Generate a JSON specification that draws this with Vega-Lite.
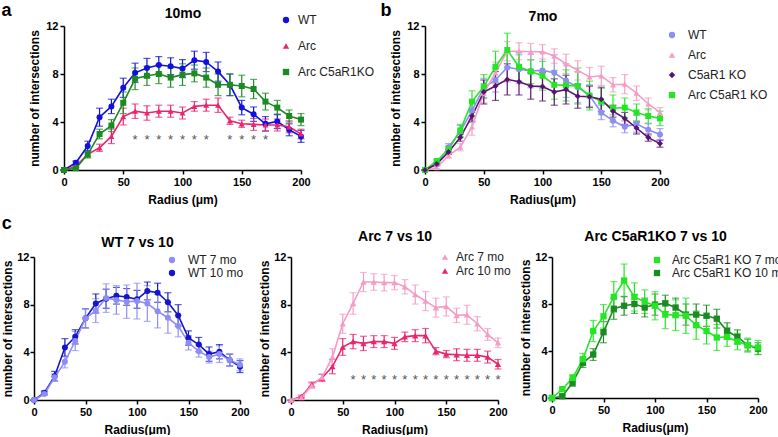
{
"$schema": "https://vega.github.io/schema/vega-lite/v6.json",
"padding": {"left": 1, "top": 1, "right": 0, "bottom": 0},
"config": {
  "font": "Liberation Sans",
  "view": {"stroke": null},
  "axis": {"grid": false, "domainColor": "#000", "domainWidth": 1.5, "tickColor": "#000", "tickWidth": 1.5, "tickSize": 4, "labelFontSize": 11, "labelFontWeight": "bold", "labelColor": "#000", "labelFlush": false, "labelPadding": 2, "titleFontSize": 12, "titleFontWeight": "bold", "titleColor": "#000", "titlePadding": 4},
  "legend": {"labelFontSize": 12, "labelColor": "#222", "symbolSize": 40},
  "title": {"fontSize": 18, "fontWeight": "bold", "color": "#000", "anchor": "start", "frame": "bounds"}
},
"datasets": {"d": [
{"s":"WT10","r":0,"m":0,"e":0},{"s":"WT10","r":10,"m":0.6,"e":0.15},{"s":"WT10","r":20,"m":2.0,"e":0.4},{"s":"WT10","r":30,"m":4.4,"e":0.75},{"s":"WT10","r":40,"m":5.3,"e":0.6},{"s":"WT10","r":50,"m":6.85,"e":0.8},{"s":"WT10","r":60,"m":8.1,"e":0.8},{"s":"WT10","r":70,"m":8.5,"e":0.8},{"s":"WT10","r":80,"m":8.75,"e":0.7},{"s":"WT10","r":90,"m":8.65,"e":0.7},{"s":"WT10","r":100,"m":8.45,"e":0.75},{"s":"WT10","r":110,"m":9.15,"e":0.75},{"s":"WT10","r":120,"m":9.0,"e":0.8},{"s":"WT10","r":130,"m":8.2,"e":0.8},{"s":"WT10","r":140,"m":7.1,"e":0.9},{"s":"WT10","r":150,"m":5.2,"e":0.6},{"s":"WT10","r":160,"m":4.65,"e":0.6},{"s":"WT10","r":170,"m":3.85,"e":0.6},{"s":"WT10","r":180,"m":4.05,"e":0.6},{"s":"WT10","r":190,"m":3.35,"e":0.5},{"s":"WT10","r":200,"m":2.8,"e":0.5},
{"s":"WT7","r":0,"m":0,"e":0},{"s":"WT7","r":10,"m":0.5,"e":0.1},{"s":"WT7","r":20,"m":1.9,"e":0.3},{"s":"WT7","r":30,"m":3.2,"e":0.5},{"s":"WT7","r":40,"m":4.95,"e":0.8},{"s":"WT7","r":50,"m":6.85,"e":0.8},{"s":"WT7","r":60,"m":7.5,"e":1.0},{"s":"WT7","r":70,"m":8.55,"e":1.2},{"s":"WT7","r":80,"m":8.4,"e":1.2},{"s":"WT7","r":90,"m":8.25,"e":1.4},{"s":"WT7","r":100,"m":8.3,"e":1.5},{"s":"WT7","r":110,"m":8.1,"e":1.5},{"s":"WT7","r":120,"m":7.45,"e":1.4},{"s":"WT7","r":130,"m":6.9,"e":1.3},{"s":"WT7","r":140,"m":6.2,"e":0.9},{"s":"WT7","r":150,"m":4.8,"e":0.6},{"s":"WT7","r":160,"m":4.1,"e":0.5},{"s":"WT7","r":170,"m":3.6,"e":0.5},{"s":"WT7","r":180,"m":3.85,"e":0.7},{"s":"WT7","r":190,"m":3.35,"e":0.5},{"s":"WT7","r":200,"m":2.95,"e":0.5},
{"s":"Arc10","r":0,"m":0,"e":0},{"s":"Arc10","r":10,"m":0.3,"e":0.1},{"s":"Arc10","r":20,"m":1.3,"e":0.2},{"s":"Arc10","r":30,"m":1.85,"e":0.3},{"s":"Arc10","r":40,"m":2.8,"e":0.6},{"s":"Arc10","r":50,"m":4.45,"e":0.7},{"s":"Arc10","r":60,"m":4.9,"e":0.6},{"s":"Arc10","r":70,"m":4.75,"e":0.6},{"s":"Arc10","r":80,"m":4.9,"e":0.5},{"s":"Arc10","r":90,"m":4.9,"e":0.5},{"s":"Arc10","r":100,"m":4.75,"e":0.5},{"s":"Arc10","r":110,"m":5.3,"e":0.4},{"s":"Arc10","r":120,"m":5.4,"e":0.5},{"s":"Arc10","r":130,"m":5.4,"e":0.6},{"s":"Arc10","r":140,"m":4.1,"e":0.3},{"s":"Arc10","r":150,"m":3.85,"e":0.3},{"s":"Arc10","r":160,"m":3.8,"e":0.5},{"s":"Arc10","r":170,"m":3.75,"e":0.5},{"s":"Arc10","r":180,"m":3.75,"e":0.5},{"s":"Arc10","r":190,"m":3.6,"e":0.5},{"s":"Arc10","r":200,"m":3.0,"e":0.4},
{"s":"Arc7","r":0,"m":0,"e":0},{"s":"Arc7","r":10,"m":0.2,"e":0.1},{"s":"Arc7","r":20,"m":1.2,"e":0.2},{"s":"Arc7","r":30,"m":1.9,"e":0.3},{"s":"Arc7","r":40,"m":3.6,"e":0.7},{"s":"Arc7","r":50,"m":6.4,"e":0.8},{"s":"Arc7","r":60,"m":8.1,"e":0.9},{"s":"Arc7","r":70,"m":9.9,"e":0.8},{"s":"Arc7","r":80,"m":9.9,"e":0.7},{"s":"Arc7","r":90,"m":9.85,"e":0.7},{"s":"Arc7","r":100,"m":9.85,"e":0.6},{"s":"Arc7","r":110,"m":9.5,"e":0.6},{"s":"Arc7","r":120,"m":8.85,"e":0.8},{"s":"Arc7","r":130,"m":8.3,"e":0.8},{"s":"Arc7","r":140,"m":7.75,"e":0.8},{"s":"Arc7","r":150,"m":7.85,"e":0.8},{"s":"Arc7","r":160,"m":7.1,"e":0.6},{"s":"Arc7","r":170,"m":7.15,"e":0.8},{"s":"Arc7","r":180,"m":6.4,"e":0.6},{"s":"Arc7","r":190,"m":5.5,"e":0.5},{"s":"Arc7","r":200,"m":4.8,"e":0.4},
{"s":"KO10","r":0,"m":0,"e":0},{"s":"KO10","r":10,"m":0.15,"e":0.1},{"s":"KO10","r":20,"m":1.3,"e":0.3},{"s":"KO10","r":30,"m":3.0,"e":0.4},{"s":"KO10","r":40,"m":3.7,"e":0.5},{"s":"KO10","r":50,"m":5.6,"e":0.9},{"s":"KO10","r":60,"m":7.6,"e":0.9},{"s":"KO10","r":70,"m":7.85,"e":0.8},{"s":"KO10","r":80,"m":8.0,"e":0.8},{"s":"KO10","r":90,"m":7.7,"e":0.8},{"s":"KO10","r":100,"m":7.95,"e":0.9},{"s":"KO10","r":110,"m":8.05,"e":0.7},{"s":"KO10","r":120,"m":7.7,"e":0.8},{"s":"KO10","r":130,"m":7.1,"e":0.9},{"s":"KO10","r":140,"m":7.1,"e":0.9},{"s":"KO10","r":150,"m":7.0,"e":0.9},{"s":"KO10","r":160,"m":6.75,"e":0.8},{"s":"KO10","r":170,"m":5.7,"e":0.7},{"s":"KO10","r":180,"m":5.2,"e":0.6},{"s":"KO10","r":190,"m":4.5,"e":0.5},{"s":"KO10","r":200,"m":4.2,"e":0.5},
{"s":"KO7","r":0,"m":0,"e":0},{"s":"KO7","r":10,"m":0.75,"e":0.1},{"s":"KO7","r":20,"m":1.7,"e":0.3},{"s":"KO7","r":30,"m":3.3,"e":0.5},{"s":"KO7","r":40,"m":5.7,"e":0.9},{"s":"KO7","r":50,"m":6.95,"e":1.0},{"s":"KO7","r":60,"m":8.6,"e":1.3},{"s":"KO7","r":70,"m":10.0,"e":1.4},{"s":"KO7","r":80,"m":8.6,"e":1.2},{"s":"KO7","r":90,"m":8.2,"e":1.0},{"s":"KO7","r":100,"m":7.85,"e":1.2},{"s":"KO7","r":110,"m":7.1,"e":1.2},{"s":"KO7","r":120,"m":7.05,"e":1.3},{"s":"KO7","r":130,"m":7.0,"e":1.5},{"s":"KO7","r":140,"m":6.2,"e":1.2},{"s":"KO7","r":150,"m":5.7,"e":1.1},{"s":"KO7","r":160,"m":5.15,"e":1.1},{"s":"KO7","r":170,"m":5.2,"e":0.8},{"s":"KO7","r":180,"m":4.8,"e":0.7},{"s":"KO7","r":190,"m":4.5,"e":0.6},{"s":"KO7","r":200,"m":4.3,"e":0.6},
{"s":"C5","r":0,"m":0,"e":0},{"s":"C5","r":10,"m":0.5,"e":0.1},{"s":"C5","r":20,"m":1.5,"e":0.2},{"s":"C5","r":30,"m":2.7,"e":0.3},{"s":"C5","r":40,"m":4.5,"e":0.5},{"s":"C5","r":50,"m":6.5,"e":1.0},{"s":"C5","r":60,"m":7.0,"e":1.2},{"s":"C5","r":70,"m":7.55,"e":1.3},{"s":"C5","r":80,"m":7.35,"e":1.1},{"s":"C5","r":90,"m":7.0,"e":1.1},{"s":"C5","r":100,"m":6.95,"e":1.2},{"s":"C5","r":110,"m":6.5,"e":1.1},{"s":"C5","r":120,"m":6.7,"e":1.2},{"s":"C5","r":130,"m":6.15,"e":1.0},{"s":"C5","r":140,"m":6.1,"e":0.9},{"s":"C5","r":150,"m":5.9,"e":1.0},{"s":"C5","r":160,"m":4.9,"e":0.5},{"s":"C5","r":170,"m":4.3,"e":0.5},{"s":"C5","r":180,"m":3.5,"e":0.5},{"s":"C5","r":190,"m":2.7,"e":0.3},{"s":"C5","r":200,"m":2.2,"e":0.3}
]},
"resolve": {"scale": {"color": "independent", "shape": "independent"}},
"center": true,
"spacing": 10,
"vconcat": [
{
 "spacing": 5,
 "resolve": {"scale": {"color": "independent", "shape": "independent"}},
 "hconcat": [
 {
  "width": 237, "height": 144,
  "data": {"name": "d"},
  "resolve": {"scale": {"color": "independent", "shape": "independent"}, "axis": {"x": "independent", "y": "independent"}},
  "layer": [
   {"transform": [{"filter": {"field": "s", "oneOf": ["WT10", "Arc10", "KO10"]}}],
    "mark": {"type": "errorbar", "thickness": 1.2, "ticks": {"size": 7, "thickness": 1.2}},
    "encoding": {
     "x": {"field": "r", "type": "quantitative", "scale": {"domain": [0, 200]}, "axis": {"orient": "bottom", "values": [0, 50, 100, 150, 200], "title": "Radius (μm)", "titlePadding": 7}},
     "y": {"field": "m", "type": "quantitative", "scale": {"domain": [0, 12]}, "axis": {"orient": "left", "values": [0, 4, 8, 12], "title": "number of intersections"}},
     "yError": {"field": "e"},
     "color": {"field": "s", "type": "nominal", "scale": {"domain": ["WT10", "Arc10", "KO10"], "range": ["#1010e0", "#e8256f", "#1c8a22"]}, "legend": null}
    }},
   {"transform": [{"filter": {"field": "s", "oneOf": ["WT10", "Arc10", "KO10"]}}],
    "mark": {"type": "line", "strokeWidth": 1.6},
    "encoding": {
     "x": {"field": "r", "type": "quantitative", "axis": {"orient": "top", "title": "10mo", "labels": false, "ticks": false, "domain": false, "titleFontSize": 14, "titlePadding": 6}},
     "y": {"field": "m", "type": "quantitative", "axis": null},
     "color": {"field": "s", "type": "nominal", "scale": {"domain": ["WT10", "Arc10", "KO10"], "range": ["#1010e0", "#e8256f", "#1c8a22"]}, "legend": null}
    }},
   {"transform": [{"filter": {"field": "s", "oneOf": ["WT10", "Arc10", "KO10"]}}],
    "mark": {"type": "point", "filled": true, "size": 36, "opacity": 1},
    "encoding": {
     "x": {"field": "r", "type": "quantitative", "axis": null},
     "y": {"field": "m", "type": "quantitative", "axis": {"orient": "left", "title": "a", "labels": false, "ticks": false, "domain": false, "titleFontSize": 18, "titleAngle": 0, "titleX": -63, "titleY": -11, "titleAlign": "left", "titleBaseline": "alphabetic"}},
     "color": {"field": "s", "type": "nominal", "scale": {"domain": ["WT10", "Arc10", "KO10"], "range": ["#1010e0", "#e8256f", "#1c8a22"]}, "legend": {"title": null, "orient": "none", "legendX": 216, "legendY": -12, "rowPadding": 14, "labelOffset": 6, "labelExpr": "datum.label == 'WT10' ? 'WT' : datum.label == 'Arc10' ? 'Arc' : 'Arc C5aR1KO'"}},
     "shape": {"field": "s", "type": "nominal", "scale": {"domain": ["WT10", "Arc10", "KO10"], "range": ["circle", "triangle-up", "square"]}, "legend": {"title": null, "orient": "none", "legendX": 216, "legendY": -12, "rowPadding": 14, "labelOffset": 6, "labelExpr": "datum.label == 'WT10' ? 'WT' : datum.label == 'Arc10' ? 'Arc' : 'Arc C5aR1KO'"}}
    }},
   {"data": {"values": [{"r": 60, "y": 2.8}, {"r": 70, "y": 2.8}, {"r": 80, "y": 2.8}, {"r": 90, "y": 2.8}, {"r": 100, "y": 2.8}, {"r": 110, "y": 2.8}, {"r": 120, "y": 2.8}, {"r": 140, "y": 2.8}, {"r": 150, "y": 2.8}, {"r": 160, "y": 2.8}, {"r": 170, "y": 2.8}]},
    "mark": {"type": "text", "text": "*", "fontSize": 13, "color": "#555", "baseline": "middle", "dy": 3.5},
    "encoding": {
     "x": {"field": "r", "type": "quantitative", "axis": null},
     "y": {"field": "y", "type": "quantitative", "axis": null}
    }}
  ]
 },
 {
  "width": 235, "height": 144,
  "data": {"name": "d"},
  "resolve": {"scale": {"color": "independent", "shape": "independent"}, "axis": {"x": "independent", "y": "independent"}},
  "layer": [
   {"transform": [{"filter": {"field": "s", "oneOf": ["WT7", "Arc7", "C5", "KO7"]}}],
    "mark": {"type": "errorbar", "thickness": 1.2, "ticks": {"size": 7, "thickness": 1.2}},
    "encoding": {
     "x": {"field": "r", "type": "quantitative", "scale": {"domain": [0, 200]}, "axis": {"orient": "bottom", "values": [0, 50, 100, 150, 200], "title": "Radius(μm)", "titlePadding": 7}},
     "y": {"field": "m", "type": "quantitative", "scale": {"domain": [0, 12]}, "axis": {"orient": "left", "values": [0, 4, 8, 12], "title": "number of intersections"}},
     "yError": {"field": "e"},
     "color": {"field": "s", "type": "nominal", "scale": {"domain": ["WT7", "Arc7", "C5", "KO7"], "range": ["#8e8ef2", "#f49cc6", "#5b1270", "#25e625"]}, "legend": null}
    }},
   {"transform": [{"filter": {"field": "s", "oneOf": ["WT7", "Arc7", "C5", "KO7"]}}],
    "mark": {"type": "line", "strokeWidth": 1.6},
    "encoding": {
     "x": {"field": "r", "type": "quantitative", "axis": {"orient": "top", "title": "7mo", "labels": false, "ticks": false, "domain": false, "titleFontSize": 14, "titlePadding": 3}},
     "y": {"field": "m", "type": "quantitative", "axis": null},
     "color": {"field": "s", "type": "nominal", "scale": {"domain": ["WT7", "Arc7", "C5", "KO7"], "range": ["#8e8ef2", "#f49cc6", "#5b1270", "#25e625"]}, "legend": null}
    }},
   {"transform": [{"filter": {"field": "s", "oneOf": ["WT7", "Arc7", "C5", "KO7"]}}],
    "mark": {"type": "point", "filled": true, "size": 36, "opacity": 1},
    "encoding": {
     "x": {"field": "r", "type": "quantitative", "axis": null},
     "y": {"field": "m", "type": "quantitative", "axis": {"orient": "left", "title": "b", "labels": false, "ticks": false, "domain": false, "titleFontSize": 18, "titleAngle": 0, "titleX": -45, "titleY": -11, "titleAlign": "left", "titleBaseline": "alphabetic"}},
     "color": {"field": "s", "type": "nominal", "scale": {"domain": ["WT7", "Arc7", "C5", "KO7"], "range": ["#8e8ef2", "#f49cc6", "#5b1270", "#25e625"]}, "legend": {"title": null, "orient": "none", "legendX": 241, "legendY": 3, "rowPadding": 8, "labelOffset": 10, "labelExpr": "datum.label == 'WT7' ? 'WT' : datum.label == 'Arc7' ? 'Arc' : datum.label == 'C5' ? 'C5aR1 KO' : 'Arc C5aR1 KO'"}},
     "shape": {"field": "s", "type": "nominal", "scale": {"domain": ["WT7", "Arc7", "C5", "KO7"], "range": ["circle", "triangle-up", "diamond", "square"]}, "legend": {"title": null, "orient": "none", "legendX": 241, "legendY": 3, "rowPadding": 8, "labelOffset": 10, "labelExpr": "datum.label == 'WT7' ? 'WT' : datum.label == 'Arc7' ? 'Arc' : datum.label == 'C5' ? 'C5aR1 KO' : 'Arc C5aR1 KO'"}}
    }}
  ]
 }
 ]
},
{
 "spacing": 8,
 "resolve": {"scale": {"color": "independent", "shape": "independent"}},
 "hconcat": [
 {
  "width": 206, "height": 143,
  "data": {"name": "d"},
  "title": {"text": "c", "offset": 2},
  "resolve": {"scale": {"color": "independent", "shape": "independent"}, "axis": {"x": "independent", "y": "independent"}},
  "layer": [
   {"transform": [{"filter": {"field": "s", "oneOf": ["WT7", "WT10"]}}],
    "mark": {"type": "errorbar", "thickness": 1.2, "ticks": {"size": 7, "thickness": 1.2}},
    "encoding": {
     "x": {"field": "r", "type": "quantitative", "scale": {"domain": [0, 200]}, "axis": {"orient": "bottom", "values": [0, 50, 100, 150, 200], "title": "Radius(μm)", "titlePadding": 7}},
     "y": {"field": "m", "type": "quantitative", "scale": {"domain": [0, 12]}, "axis": {"orient": "left", "values": [0, 4, 8, 12], "title": "number of intersections", "labelPadding": 1, "titlePadding": 2}},
     "yError": {"field": "e"},
     "color": {"field": "s", "type": "nominal", "scale": {"domain": ["WT7", "WT10"], "range": ["#8e8ef2", "#1414c8"]}, "legend": null}
    }},
   {"transform": [{"filter": {"field": "s", "oneOf": ["WT7", "WT10"]}}],
    "mark": {"type": "line", "strokeWidth": 1.6},
    "encoding": {
     "x": {"field": "r", "type": "quantitative", "axis": {"orient": "top", "title": "WT 7 vs 10", "labels": false, "ticks": false, "domain": false, "titleFontSize": 14, "titlePadding": 8}},
     "y": {"field": "m", "type": "quantitative", "axis": null},
     "color": {"field": "s", "type": "nominal", "scale": {"domain": ["WT7", "WT10"], "range": ["#8e8ef2", "#1414c8"]}, "legend": null}
    }},
   {"transform": [{"filter": {"field": "s", "oneOf": ["WT7", "WT10"]}}],
    "mark": {"type": "point", "filled": true, "size": 36, "opacity": 1},
    "encoding": {
     "x": {"field": "r", "type": "quantitative", "axis": null},
     "y": {"field": "m", "type": "quantitative", "axis": null},
     "color": {"field": "s", "type": "nominal", "scale": {"domain": ["WT7", "WT10"], "range": ["#8e8ef2", "#1414c8"]}, "legend": {"title": null, "orient": "none", "legendX": 132, "legendY": -3, "rowPadding": 1, "labelOffset": 10, "labelExpr": "datum.label == 'WT7' ? 'WT 7 mo' : 'WT 10 mo'"}},
     "shape": {"field": "s", "type": "nominal", "scale": {"domain": ["WT7", "WT10"], "range": ["circle", "circle"]}, "legend": {"title": null, "orient": "none", "legendX": 132, "legendY": -3, "rowPadding": 1, "labelOffset": 10, "labelExpr": "datum.label == 'WT7' ? 'WT 7 mo' : 'WT 10 mo'"}}
    }}
  ]
 },
 {
  "width": 207, "height": 143,
  "data": {"name": "d"},
  "resolve": {"scale": {"color": "independent", "shape": "independent"}, "axis": {"x": "independent", "y": "independent"}},
  "layer": [
   {"transform": [{"filter": {"field": "s", "oneOf": ["Arc7", "Arc10"]}}],
    "mark": {"type": "errorbar", "thickness": 1.2, "ticks": {"size": 7, "thickness": 1.2}},
    "encoding": {
     "x": {"field": "r", "type": "quantitative", "scale": {"domain": [0, 200]}, "axis": {"orient": "bottom", "values": [0, 50, 100, 150, 200], "title": "Radius(μm)", "titlePadding": 7}},
     "y": {"field": "m", "type": "quantitative", "scale": {"domain": [0, 12]}, "axis": {"orient": "left", "values": [0, 4, 8, 12], "title": "number of intersections", "labelPadding": 1, "titlePadding": 2}},
     "yError": {"field": "e"},
     "color": {"field": "s", "type": "nominal", "scale": {"domain": ["Arc7", "Arc10"], "range": ["#f49cc6", "#e8256f"]}, "legend": null}
    }},
   {"transform": [{"filter": {"field": "s", "oneOf": ["Arc7", "Arc10"]}}],
    "mark": {"type": "line", "strokeWidth": 1.6},
    "encoding": {
     "x": {"field": "r", "type": "quantitative", "axis": {"orient": "top", "title": "Arc 7 vs 10", "labels": false, "ticks": false, "domain": false, "titleFontSize": 14, "titlePadding": 14}},
     "y": {"field": "m", "type": "quantitative", "axis": null},
     "color": {"field": "s", "type": "nominal", "scale": {"domain": ["Arc7", "Arc10"], "range": ["#f49cc6", "#e8256f"]}, "legend": null}
    }},
   {"transform": [{"filter": {"field": "s", "oneOf": ["Arc7", "Arc10"]}}],
    "mark": {"type": "point", "filled": true, "size": 40, "opacity": 1},
    "encoding": {
     "x": {"field": "r", "type": "quantitative", "axis": null},
     "y": {"field": "m", "type": "quantitative", "axis": null},
     "color": {"field": "s", "type": "nominal", "scale": {"domain": ["Arc7", "Arc10"], "range": ["#f49cc6", "#e8256f"]}, "legend": {"title": null, "orient": "none", "legendX": 148, "legendY": -6, "rowPadding": 2, "labelOffset": 5, "labelExpr": "datum.label == 'Arc7' ? 'Arc 7 mo' : 'Arc 10 mo'"}},
     "shape": {"field": "s", "type": "nominal", "scale": {"domain": ["Arc7", "Arc10"], "range": ["triangle-up", "triangle-up"]}, "legend": {"title": null, "orient": "none", "legendX": 148, "legendY": -6, "rowPadding": 2, "labelOffset": 5, "labelExpr": "datum.label == 'Arc7' ? 'Arc 7 mo' : 'Arc 10 mo'"}}
    }},
   {"data": {"values": [{"r": 60, "y": 2.0}, {"r": 70, "y": 2.0}, {"r": 80, "y": 2.0}, {"r": 90, "y": 2.0}, {"r": 100, "y": 2.0}, {"r": 110, "y": 2.0}, {"r": 120, "y": 2.0}, {"r": 130, "y": 2.0}, {"r": 140, "y": 2.0}, {"r": 150, "y": 2.0}, {"r": 160, "y": 2.0}, {"r": 170, "y": 2.0}, {"r": 180, "y": 2.0}, {"r": 190, "y": 2.0}, {"r": 200, "y": 2.0}]},
    "mark": {"type": "text", "text": "*", "fontSize": 13, "color": "#555", "baseline": "middle", "dy": 3.5},
    "encoding": {
     "x": {"field": "r", "type": "quantitative", "axis": null},
     "y": {"field": "y", "type": "quantitative", "axis": null}
    }}
  ]
 },
 {
  "width": 206, "height": 141,
  "data": {"name": "d"},
  "resolve": {"scale": {"color": "independent", "shape": "independent"}, "axis": {"x": "independent", "y": "independent"}},
  "layer": [
   {"transform": [{"filter": {"field": "s", "oneOf": ["KO7", "KO10"]}}],
    "mark": {"type": "errorbar", "thickness": 1.2, "ticks": {"size": 7, "thickness": 1.2}},
    "encoding": {
     "x": {"field": "r", "type": "quantitative", "scale": {"domain": [0, 200]}, "axis": {"orient": "bottom", "values": [0, 50, 100, 150, 200], "title": "Radius(μm)", "titlePadding": 7}},
     "y": {"field": "m", "type": "quantitative", "scale": {"domain": [0, 12]}, "axis": {"orient": "left", "values": [0, 4, 8, 12], "title": "number of intersections", "labelPadding": 1, "titlePadding": 2}},
     "yError": {"field": "e"},
     "color": {"field": "s", "type": "nominal", "scale": {"domain": ["KO7", "KO10"], "range": ["#25e625", "#1c8a22"]}, "legend": null}
    }},
   {"transform": [{"filter": {"field": "s", "oneOf": ["KO7", "KO10"]}}],
    "mark": {"type": "line", "strokeWidth": 1.6},
    "encoding": {
     "x": {"field": "r", "type": "quantitative", "axis": {"orient": "top", "title": "Arc C5aR1KO 7 vs 10", "labels": false, "ticks": false, "domain": false, "titleFontSize": 14, "titlePadding": 14}},
     "y": {"field": "m", "type": "quantitative", "axis": null},
     "color": {"field": "s", "type": "nominal", "scale": {"domain": ["KO7", "KO10"], "range": ["#25e625", "#1c8a22"]}, "legend": null}
    }},
   {"transform": [{"filter": {"field": "s", "oneOf": ["KO7", "KO10"]}}],
    "mark": {"type": "point", "filled": true, "size": 40, "opacity": 1},
    "encoding": {
     "x": {"field": "r", "type": "quantitative", "axis": null},
     "y": {"field": "m", "type": "quantitative", "axis": null},
     "color": {"field": "s", "type": "nominal", "scale": {"domain": ["KO7", "KO10"], "range": ["#25e625", "#1c8a22"]}, "legend": {"title": null, "orient": "none", "legendX": 90, "legendY": -12, "padding": 9, "rowPadding": 1, "labelOffset": 9, "labelExpr": "datum.label == 'KO7' ? 'Arc C5aR1 KO 7 mo' : 'Arc C5aR1 KO 10 mo'"}},
     "shape": {"field": "s", "type": "nominal", "scale": {"domain": ["KO7", "KO10"], "range": ["square", "square"]}, "legend": {"title": null, "orient": "none", "legendX": 90, "legendY": -12, "padding": 9, "rowPadding": 1, "labelOffset": 9, "labelExpr": "datum.label == 'KO7' ? 'Arc C5aR1 KO 7 mo' : 'Arc C5aR1 KO 10 mo'"}}
    }}
  ]
 }
 ]
}
]
}
